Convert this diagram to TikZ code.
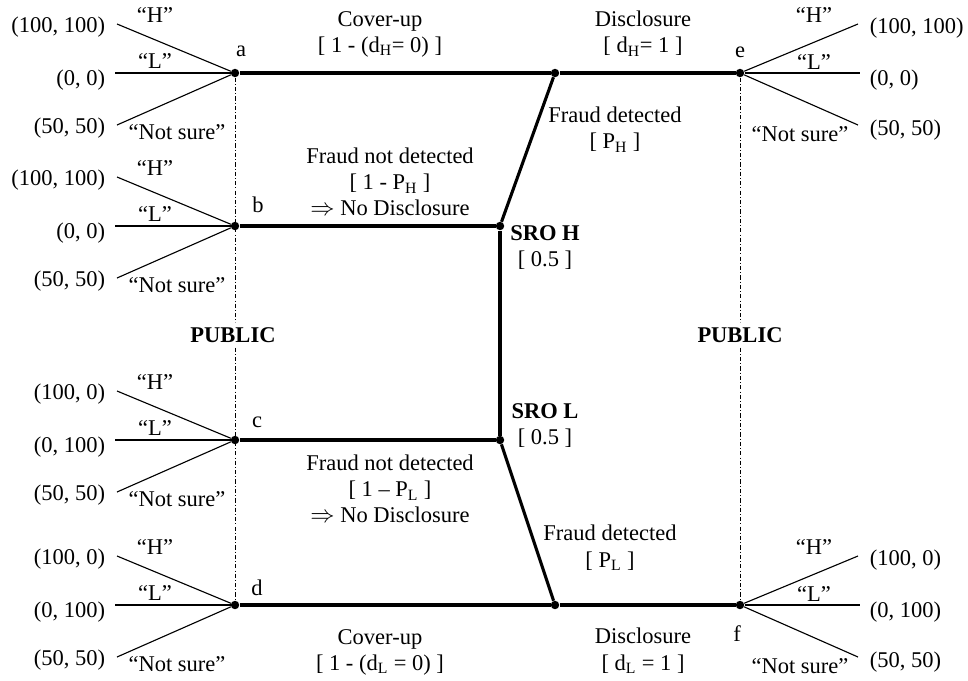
\documentclass[tikz,border=0pt]{standalone}
\usepackage{fontspec}
\setmainfont{Liberation Serif}
\usetikzlibrary{calc}

\tikzset{
  dot/.style={circle, fill, inner sep=0pt, minimum size=6pt},
  move/.style={line width=2.2pt},
  vote/.style={line width=0.8pt},
  info/.style={line width=0.6pt, dash pattern=on 3pt off 1.5pt on 0.7pt off 1.5pt},
}

\begin{document}
\begin{tikzpicture}[x=0.025cm, y=-0.025cm,
    every node/.style={font=\fontsize{16}{18.5}\selectfont, align=center}]
            \useasboundingbox (0,0) rectangle (968,680);

            % public decision nodes
            \node[dot] (a) at (235,73) {};
            \node[dot] (b) at (235,226) {};
            \node[dot] (c) at (235,440) {};
            \node[dot] (d) at (235,605) {};
            \node[dot] (e) at (740,73) {};
            \node[dot] (f) at (740,605) {};
            \node (la) at (241,51) {a};
            \node (lb) at (258,205) {b};
            \node (lc) at (257,422) {c};
            \node (ld) at (257,588) {d};
            \node (le) at (740,52) {e};
            \node (lf) at (737,634) {f};

            % SRO nodes
            \node[dot] (sroH) at (500,226) {};
            \node[dot] (sroL) at (500,440) {};
            \node[dot] (jH) at (555,73) {};
            \node[dot] (jL) at (555,605) {};
            \node (tH) at (545,248) {\textbf{SRO H}\\{[}~0.5~{]}};
            \node (tL) at (545,426) {\textbf{SRO L}\\{[}~0.5~{]}};

            \draw[move] (sroH) -- (sroL);
            \draw[move] (b) -- (sroH);
            \draw[move] (c) -- (sroL);
            \draw[move] (sroH) -- (jH);
            \draw[move] (sroL) -- (jL);
            \draw[move] (a) -- (jH) -- (e);
            \draw[move] (d) -- (jL) -- (f);

            \node (coverH) at (380,34) {Cover-up\\{[}~1 - (d\textsubscript{H}= 0)~{]}};
            \node (discH) at (643,34) {Disclosure\\{[}~d\textsubscript{H}= 1~{]}};
            \node (detH) at (615,130) {Fraud detected\\{[}~P\textsubscript{H}~{]}};
            \node (nodetH) at (390,182) {Fraud not detected\\{[}~1 - P\textsubscript{H}~{]}\\$\Rightarrow$ No Disclosure};
            \node (nodetL) at (390,489) {Fraud not detected\\{[}~1 -- P\textsubscript{L}~{]}\\$\Rightarrow$ No Disclosure};
            \node (detL) at (610,548) {Fraud detected\\{[}~P\textsubscript{L}~{]}};
            \node (coverL) at (380,652) {Cover-up\\{[}~1 - (d\textsubscript{L} = 0)~{]}};
            \node (discL) at (643,651) {Disclosure\\{[}~d\textsubscript{L} = 1~{]}};

            % information sets
            \node (pubL) at (233,335) {\textbf{PUBLIC}};
            \node (pubR) at (740,335) {\textbf{PUBLIC}};
            \draw[info] (a) -- (pubL.north -| a);
            \draw[info] (pubL.south -| a) -- (d);
            \draw[info] (e) -- (pubR.north);
            \draw[info] (pubR.south) -- (f);

            % votes of the public, left side
            \foreach \n/\ph/\pl in {a/{(100, 100)}/{(0, 0)}, b/{(100, 100)}/{(0, 0)},
                                    c/{(100, 0)}/{(0, 100)}, d/{(100, 0)}/{(0, 100)}} {
                \coordinate (\n H) at ($(\n)+(-118,-49)$);
                \coordinate (\n L) at ($(\n)+(-120,0)$);
                \coordinate (\n N) at ($(\n)+(-118,52)$);
                \draw[vote] (\n H) -- (\n);
                \draw[vote] (\n L) -- (\n);
                \draw[vote] (\n N) -- (\n);
                \node[anchor=east] (\n pH) at ($(\n)+(-125,-46)$) {\ph};
                \node[anchor=east] (\n pL) at ($(\n)+(-125,7)$) {\pl};
                \node[anchor=east] (\n pN) at ($(\n)+(-125,55)$) {(50, 50)};
                \node (\n qH) at ($(\n)+(-80,-58)$) {``H''};
                \node (\n qL) at ($(\n)+(-80,-12)$) {``L''};
                \node (\n qN) at ($(\n)+(-58,59)$) {``Not sure''};
            }

            % votes of the public, right side
            \foreach \n/\ph/\pl in {e/{(100, 100)}/{(0, 0)}, f/{(100, 0)}/{(0, 100)}} {
                \coordinate (\n H) at ($(\n)+(118,-49)$);
                \coordinate (\n L) at ($(\n)+(120,0)$);
                \coordinate (\n N) at ($(\n)+(118,52)$);
                \draw[vote] (\n) -- (\n H);
                \draw[vote] (\n) -- (\n L);
                \draw[vote] (\n) -- (\n N);
                \node[anchor=west] (\n pH) at ($(\n)+(125,-45)$) {\ph};
                \node[anchor=west] (\n pL) at ($(\n)+(125,7)$) {\pl};
                \node[anchor=west] (\n pN) at ($(\n)+(125,57)$) {(50, 50)};
                \node (\n qH) at ($(\n)+(74,-58)$) {``H''};
                \node (\n qL) at ($(\n)+(74,-11)$) {``L''};
                \node (\n qN) at ($(\n)+(60,61)$) {``Not sure''};
            }
        \end{tikzpicture}
\end{document}
